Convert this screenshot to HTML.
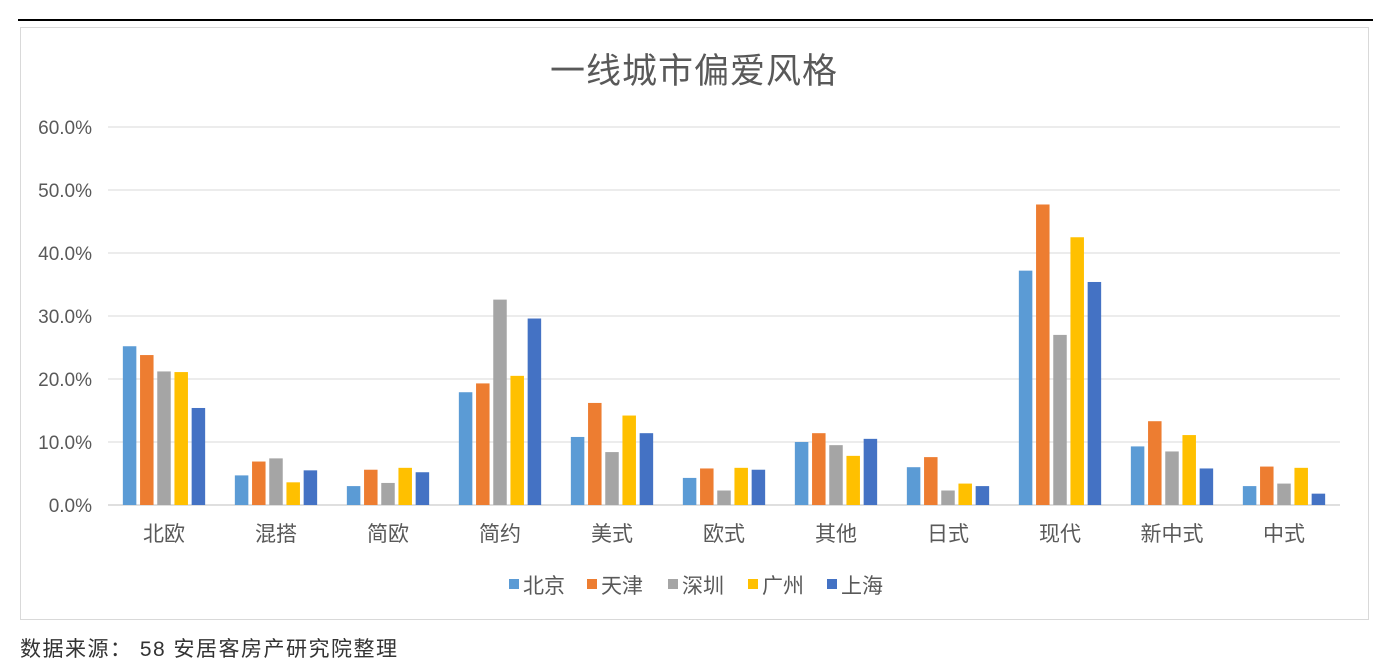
<!DOCTYPE html>
<html><head><meta charset="utf-8"><style>
body{margin:0;background:#fff;width:1391px;height:667px;overflow:hidden;font-family:"Liberation Sans","Noto Sans CJK SC",sans-serif;}
</style></head><body>
<svg width="1391" height="667" xmlns="http://www.w3.org/2000/svg" font-family="Liberation Sans, Noto Sans CJK SC, sans-serif">
<line x1="18" y1="20" x2="1373" y2="20" stroke="#000" stroke-width="2"/>
<rect x="20.5" y="27.5" width="1348" height="592" fill="#fff" stroke="#d9d9d9"/>
<text x="694" y="83" text-anchor="middle" font-size="35" letter-spacing="1" fill="#595959">一线城市偏爱风格</text>
<g id="grid"></g><g id="bars"></g><g id="xlabels"></g><g id="legend"></g>
<text x="20" y="656" font-size="21" letter-spacing="1.5" fill="#333">数据来源： 58 安居客房产研究院整理</text>
</svg>
<script>
const categories=["北欧","混搭","简欧","简约","美式","欧式","其他","日式","现代","新中式","中式"];
const seriesNames=["北京","天津","深圳","广州","上海"];
const beijing=[25.2,4.7,3.0,17.9,10.8,4.3,10.0,6.0,37.2,9.3,3.0];
const tianjin=[23.8,6.9,5.6,19.3,16.2,5.8,11.4,7.6,47.7,13.3,6.1];
const shenzhen=[21.2,7.4,3.5,32.6,8.4,2.3,9.5,2.3,27.0,8.5,3.4];
const guangzhou=[21.1,3.6,5.9,20.5,14.2,5.9,7.8,3.4,42.5,11.1,5.9];
const shanghai=[15.4,5.5,5.2,29.6,11.4,5.6,10.5,3.0,35.4,5.8,1.8];
const yTicks=[0,10,20,30,40,50,60];
const colors=["#5B9BD5","#ED7D31","#A5A5A5","#FFC000","#4472C4"];
const series=[beijing,tianjin,shenzhen,guangzhou,shanghai];
const NS="http://www.w3.org/2000/svg";
const x0=108,x1=1340,yBase=505,yTop=127,yMax=60;
const y=v=>yBase-(v/yMax)*(yBase-yTop);
const band=(x1-x0)/categories.length;
const cx=i=>x0+band*(i+0.5);
function mk(t,a,p){const e=document.createElementNS(NS,t);for(const k in a)e.setAttribute(k,a[k]);p.appendChild(e);return e;}
const grid=document.getElementById('grid');
yTicks.forEach(t=>{
  const l=mk('line',{x1:x0,x2:x1,y1:y(t),y2:y(t),stroke:t===0?'#bfbfbf':'#d9d9d9','stroke-width':1},grid);
  
  
  const tx=mk('text',{x:92,y:y(t)+7,'text-anchor':'end','font-size':19,fill:'#595959'},grid);
  tx.textContent=t.toFixed(1)+'%';
  
  
});
const bars=document.getElementById('bars');
const bw=13.5,step=17.2;
series.forEach((s,j)=>{
  s.forEach((v,i)=>{
    const bx=cx(i)+(j-2)*step-bw/2;
    const r=mk('rect',{x:bx,y:y(v),width:bw,height:yBase-y(v),fill:colors[j]},bars);
    
    
  });
});
const xl=document.getElementById('xlabels');
categories.forEach((c,i)=>{
  const t=mk('text',{x:cx(i),y:541,'text-anchor':'middle','font-size':21,fill:'#595959'},xl);
  t.textContent=c;
  
  
});
const lg=document.getElementById('legend');
const lx=[509,587,668,748,827];
seriesNames.forEach((n,j)=>{
  const g=mk('g',{},lg);
  
  
  mk('rect',{x:lx[j],y:579,width:10,height:10,fill:colors[j]},g);
  const t=mk('text',{x:lx[j]+14,y:593,'font-size':21,fill:'#595959'},g);
  t.textContent=n;
});
</script>
</body></html>
